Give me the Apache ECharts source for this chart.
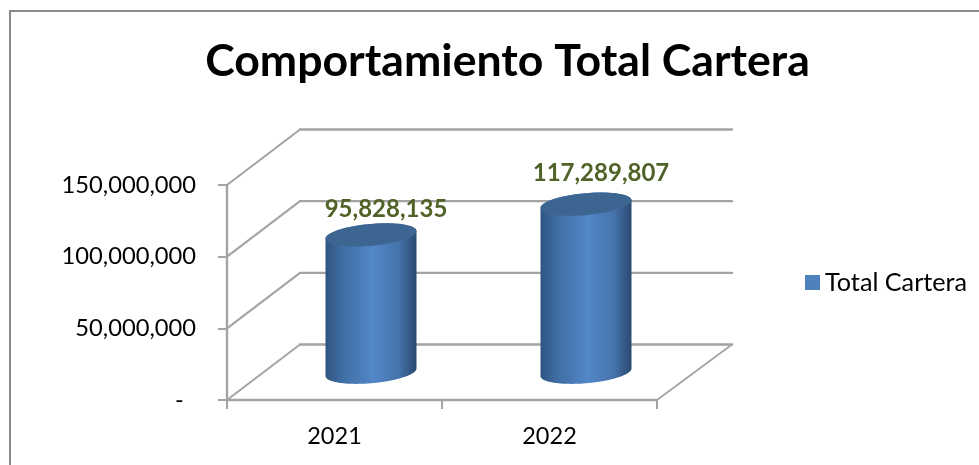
<!DOCTYPE html>
<html>
<head>
<meta charset="utf-8">
<style>html,body{margin:0;padding:0;background:#fff}#chart{width:979px;height:465px}</style>
<script src="https://cdn.jsdelivr.net/npm/echarts@6/dist/echarts.min.js"></script>
</head>
<body>
<div id="chart"></div>
<script>
// Chart content
const chartTitle = 'Comportamiento Total Cartera';
const seriesName = 'Total Cartera';
const categories = ['2021', '2022'];
const totalCartera = [95828135, 117289807];
const axisTicks = [0, 50000000, 100000000, 150000000];

// 3D look of the plot box
const FONT = 'Lato';
const DEPTH_X = 73;
const DEPTH_Y = 55.5;
const BACK_EXTRA = 2;
const WALL_COLOR = '#a3a3a3';
const BAR_HALF_RATIO = 0.2116;
const ELLIPSE_MINOR = 11;
const ELLIPSE_TILT = 3.8;
const LABEL_SHIFT_X = 15;
const LABEL_LIFT = [26, 31];

const fmt = v => v.toLocaleString('en-US');

function line(x1, y1, x2, y2, width) {
  return {
    type: 'line',
    shape: { x1, y1, x2, y2 },
    style: { stroke: WALL_COLOR, lineWidth: width, lineCap: 'round' }
  };
}

// Side wall, back wall and floor edges, one run per axis tick
function renderWall(params, api) {
  const v = api.value(1);
  const half = api.size([1, 0])[0] / 2;
  const left = api.coord([0, v])[0] - half;
  const right = api.coord([1, v])[0] + half;
  const y = api.coord([0, v])[1];
  const backRight = right + DEPTH_X + BACK_EXTRA;
  const children = [
    line(left, y, left + DEPTH_X, y - DEPTH_Y, 2),
    line(left + DEPTH_X, y - DEPTH_Y, backRight, y - DEPTH_Y, 2.4)
  ];
  if (v === 0) children.push(line(right, y, backRight, y - DEPTH_Y, 1.7));
  return { type: 'group', children };
}

// Points along a sheared ellipse, from angle a0 to a1
function arc(cx, cy, a, a0, a1) {
  const pts = [];
  const n = 48;
  for (let i = 0; i <= n; i++) {
    const t = a0 + (a1 - a0) * i / n;
    pts.push([cx + a * Math.cos(t), cy - ELLIPSE_TILT * Math.cos(t) + ELLIPSE_MINOR * Math.sin(t)]);
  }
  return pts;
}

// Cylinder standing halfway into the depth of the floor
function renderCylinder(params, api) {
  const i = api.value(0);
  const value = api.value(1);
  const a = api.size([1, 0])[0] * BAR_HALF_RATIO;
  const base = api.coord([i, 0]);
  const top = api.coord([i, value]);
  const cx = base[0] + DEPTH_X / 2;
  const by = base[1] - DEPTH_Y / 2;
  const ty = top[1] - DEPTH_Y / 2;
  const bottomArc = arc(cx, by, a, 0, Math.PI);
  const topArc = arc(cx, ty, a, Math.PI, 2 * Math.PI);
  const bodyFill = new echarts.graphic.LinearGradient(0, 0, 1, 0, [
    { offset: 0, color: '#2f5480' },
    { offset: 0.18, color: '#3f6da3' },
    { offset: 0.52, color: '#5387c8' },
    { offset: 0.8, color: '#4674ad' },
    { offset: 1, color: '#2a4a70' }
  ]);
  return {
    type: 'group',
    children: [
      {
        type: 'polygon',
        shape: { points: bottomArc.concat(topArc) },
        style: { fill: bodyFill }
      },
      {
        type: 'polygon',
        shape: { points: arc(cx, ty, a, 0, 2 * Math.PI) },
        style: { fill: '#3d6592' }
      },
      {
        type: 'text',
        style: {
          x: cx + LABEL_SHIFT_X,
          y: ty - LABEL_LIFT[i],
          text: fmt(value),
          fill: '#4f6228',
          font: 'bold 24px ' + FONT,
          textAlign: 'center',
          textVerticalAlign: 'middle'
        }
      }
    ]
  };
}

const chart = echarts.init(document.getElementById('chart'), null, { renderer: 'canvas' });
chart.setOption({
  animation: false,
  backgroundColor: '#ffffff',
  title: {
    text: chartTitle,
    left: 502.5,
    top: 34,
    textAlign: 'center',
    textStyle: { fontFamily: FONT, fontSize: 44.6, fontWeight: 'bold', color: '#000000' }
  },
  legend: {
    data: [{ name: seriesName, icon: 'rect' }],
    left: 805,
    top: 270,
    padding: 0,
    itemWidth: 15,
    itemHeight: 15,
    itemGap: 6,
    textStyle: { fontFamily: FONT, fontSize: 25.2, color: '#000000' }
  },
  grid: { left: 227, top: 185, width: 430, height: 215 },
  xAxis: {
    type: 'category',
    data: categories,
    boundaryGap: true,
    axisLine: { lineStyle: { color: WALL_COLOR, width: 2.4 } },
    axisTick: { show: true, length: 9, lineStyle: { color: WALL_COLOR, width: 2 } },
    axisLabel: { margin: 24, fontFamily: FONT, fontSize: 23.5, color: '#000000' }
  },
  yAxis: {
    type: 'value',
    min: 0,
    max: 150000000,
    interval: 50000000,
    axisLine: { show: true, lineStyle: { color: WALL_COLOR, width: 2.4 } },
    axisTick: { show: true, length: 9, lineStyle: { color: WALL_COLOR, width: 2 } },
    splitLine: { show: false },
    axisLabel: {
      margin: 31,
      fontFamily: FONT,
      fontSize: 23.7,
      color: '#000000',
      formatter: v => (v === 0 ? '-  ' : fmt(v))
    }
  },
  series: [
    {
      type: 'custom',
      name: 'walls',
      silent: true,
      z: 1,
      data: axisTicks.map(v => [0, v]),
      renderItem: renderWall
    },
    {
      type: 'custom',
      name: seriesName,
      z: 3,
      itemStyle: { color: '#4f81bd' },
      data: totalCartera.map((v, i) => [i, v]),
      renderItem: renderCylinder
    }
  ],
  graphic: [
    {
      type: 'rect',
      z: -1,
      silent: true,
      shape: { x: 10, y: 11, width: 1000, height: 500 },
      style: { fill: 'none', stroke: '#8a8a8a', lineWidth: 2 }
    }
  ]
});
</script>
</body>
</html>
